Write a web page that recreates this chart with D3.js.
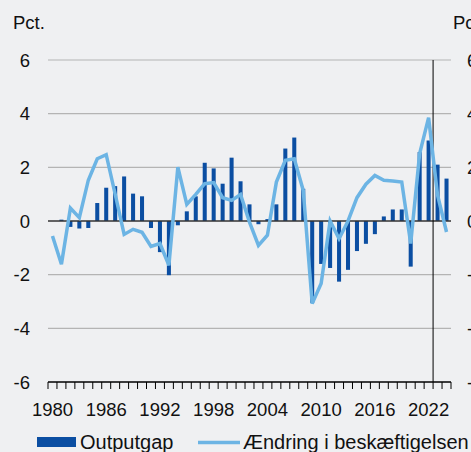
<!DOCTYPE html>
<html>
<head>
<meta charset="utf-8">
<script src="https://cdn.jsdelivr.net/npm/d3@7"></script>
<style>
  html, body { margin: 0; padding: 0; background: #eff0f2; }
  svg { display: block; font-family: "Liberation Sans", Arial, sans-serif; }
</style>
</head>
<body>
<div id="chart"></div>
<script>
// Years shown on the x axis (one band each)
var years = [1980, 1981, 1982, 1983, 1984, 1985, 1986, 1987, 1988, 1989,
    1990, 1991, 1992, 1993, 1994, 1995, 1996, 1997, 1998, 1999,
    2000, 2001, 2002, 2003, 2004, 2005, 2006, 2007, 2008, 2009,
    2010, 2011, 2012, 2013, 2014, 2015, 2016, 2017, 2018, 2019,
    2020, 2021, 2022, 2023, 2024];

// Outputgap, pct. (bars)
var outputgap = [0.0, 0.05, -0.22, -0.28, -0.26, 0.67, 1.24, 1.30, 1.66, 1.02,
    0.92, -0.26, -1.16, -2.02, -0.16, 0.36, 0.92, 2.17, 1.96, 1.39,
    2.36, 1.48, 0.62, -0.12, 0.07, 0.62, 2.70, 3.11, 1.20, -3.05,
    -1.60, -1.75, -2.26, -1.82, -1.12, -0.85, -0.49, 0.17, 0.43, 0.43,
    -1.70, 2.57, 3.00, 2.10, 1.58];

// Ændring i beskæftigelsen, pct. (line)
var employment = [-0.56, -1.61, 0.48, 0.12, 1.52, 2.32, 2.47, 1.00, -0.50, -0.31,
    -0.42, -0.95, -0.84, -1.65, 2.01, 0.62, 0.99, 1.39, 1.43, 0.87,
    0.77, 0.99, -0.04, -0.91, -0.53, 1.45, 2.26, 2.32, 1.14, -3.08,
    -2.33, 0.00, -0.66, 0.00, 0.87, 1.37, 1.70, 1.52, 1.49, 1.45,
    -0.84, 2.51, 3.85, 0.96, -0.41];

var yTicks = [-6, -4, -2, 0, 2, 4, 6];
var xLabels = [1980, 1986, 1992, 1998, 2004, 2010, 2016, 2022];
var forecastAfter = 2022;

var width = 471, height = 452;
var plotLeft = 48, plotRight = 451, plotTop = 60, plotBottom = 382;
var barColor = '#0b4ea2', lineColor = '#6cb4e4';
var axisFont = 18.5, legendFont = 20;

var svg = d3.select('#chart').append('svg')
    .attr('width', width)
    .attr('height', height);

svg.append('rect').attr('width', width).attr('height', height).attr('fill', '#eff0f2');

var x = d3.scaleBand().domain(years).range([plotLeft, plotRight]).paddingInner(0.55).paddingOuter(0.275);
var step = x.step();
var y = d3.scaleLinear().domain([-6, 6]).range([plotBottom, plotTop]);

// grid lines
svg.append('g').selectAll('line')
    .data(yTicks.filter(function(d) { return d !== 0 && d !== -6; }))
    .enter().append('line')
    .attr('x1', plotLeft).attr('x2', plotRight)
    .attr('y1', function(d) { return y(d); })
    .attr('y2', function(d) { return y(d); })
    .attr('stroke', '#b4b4b4')
    .attr('stroke-width', 1.2);

// bars
svg.append('g').selectAll('rect')
    .data(years)
    .enter().append('rect')
    .attr('x', function(d) { return x(d); })
    .attr('width', x.bandwidth())
    .attr('y', function(d, i) { return y(Math.max(0, outputgap[i])); })
    .attr('height', function(d, i) { return Math.abs(y(outputgap[i]) - y(0)); })
    .attr('fill', barColor);

// zero line
svg.append('line')
    .attr('x1', plotLeft).attr('x2', plotRight)
    .attr('y1', y(0)).attr('y2', y(0))
    .attr('stroke', '#333')
    .attr('stroke-width', 1.5);

// forecast separator
var sepX = x(forecastAfter) - step * x.paddingInner() / 2 + step;
svg.append('line')
    .attr('x1', sepX).attr('x2', sepX)
    .attr('y1', y(6)).attr('y2', y(-6))
    .attr('stroke', '#000')
    .attr('stroke-width', 1);

// employment line
var line = d3.line()
    .x(function(d, i) { return x(years[i]) + x.bandwidth() / 2; })
    .y(function(d) { return y(d); });

svg.append('path')
    .datum(employment)
    .attr('d', line)
    .attr('fill', 'none')
    .attr('stroke', lineColor)
    .attr('stroke-width', 3.5)
    .attr('stroke-linejoin', 'miter');

// x axis with ticks at band boundaries
var xAxis = svg.append('g');
xAxis.append('line')
    .attr('x1', plotLeft).attr('x2', plotRight)
    .attr('y1', plotBottom).attr('y2', plotBottom)
    .attr('stroke', '#000')
    .attr('stroke-width', 1.5);
var bounds = years.map(function(d) { return x(d) - step * x.paddingInner() / 2; });
bounds.push(plotRight);
xAxis.selectAll('.tick')
    .data(bounds)
    .enter().append('line')
    .attr('class', 'tick')
    .attr('x1', function(d) { return d; })
    .attr('x2', function(d) { return d; })
    .attr('y1', plotBottom).attr('y2', plotBottom + 7)
    .attr('stroke', '#000')
    .attr('stroke-width', 1);
xAxis.selectAll('text')
    .data(xLabels)
    .enter().append('text')
    .attr('x', function(d) { return x(d) + x.bandwidth() / 2; })
    .attr('y', 416)
    .attr('text-anchor', 'middle')
    .attr('font-size', axisFont)
    .attr('fill', '#111')
    .text(function(d) { return d; });

// y labels left and right
svg.append('g').selectAll('text')
    .data(yTicks)
    .enter().append('text')
    .attr('x', 30)
    .attr('y', function(d) { return y(d); })
    .attr('dy', '0.36em')
    .attr('text-anchor', 'end')
    .attr('font-size', axisFont)
    .attr('fill', '#111')
    .text(function(d) { return d; });

svg.append('g').selectAll('text')
    .data(yTicks)
    .enter().append('text')
    .attr('x', 467)
    .attr('y', function(d) { return y(d); })
    .attr('dy', '0.36em')
    .attr('text-anchor', 'start')
    .attr('font-size', axisFont)
    .attr('fill', '#111')
    .text(function(d) { return d; });

svg.append('text').attr('x', 13).attr('y', 29)
    .attr('font-size', axisFont).attr('fill', '#111').text('Pct.');
svg.append('text').attr('x', 453).attr('y', 29)
    .attr('font-size', axisFont).attr('fill', '#111').text('Pct.');

// legend
var legend = svg.append('g');
legend.append('rect')
    .attr('x', 37).attr('y', 437).attr('width', 39).attr('height', 10)
    .attr('fill', barColor);
legend.append('text')
    .attr('x', 80).attr('y', 449)
    .attr('font-size', legendFont).attr('fill', '#111')
    .text('Outputgap');
legend.append('line')
    .attr('x1', 198).attr('x2', 240)
    .attr('y1', 442.5).attr('y2', 442.5)
    .attr('stroke', lineColor)
    .attr('stroke-width', 3.5);
legend.append('text')
    .attr('x', 243).attr('y', 449)
    .attr('font-size', legendFont).attr('fill', '#111')
    .text('Ændring i beskæftigelsen');
</script>
</body>
</html>
